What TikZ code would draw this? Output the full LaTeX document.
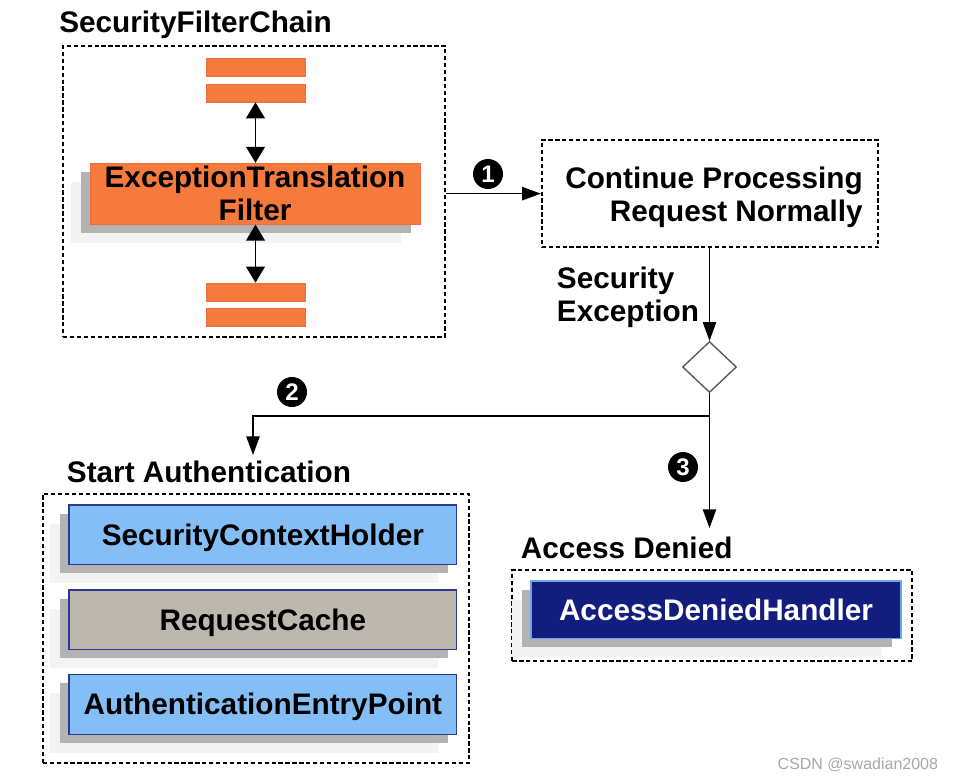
\documentclass[tikz,border=0pt]{standalone}
\usepackage{fontspec}
\setmainfont{Liberation Sans}
\usetikzlibrary{arrows.meta,shapes.geometric,shadows}
\definecolor{orng}{HTML}{F67A3C}
\definecolor{orngb}{HTML}{EC6E3A}
\definecolor{lblue}{HTML}{84BEF6}
\definecolor{nvborder}{HTML}{2B3990}
\definecolor{rcfill}{HTML}{BDB8AD}
\definecolor{adhfill}{HTML}{121D7E}
\definecolor{adhborder}{HTML}{6CA6EE}
\definecolor{shdark}{HTML}{B3B3B3}
\definecolor{shlight}{HTML}{F3F3F3}
\definecolor{diagray}{HTML}{555555}
\definecolor{wmgray}{HTML}{A8A8A8}
\begin{document}
\begin{tikzpicture}[x=0.75pt,y=-0.75pt,
  sz/.style 2 args={minimum width=#1*0.75pt, minimum height=#2*0.75pt, inner sep=0pt},
  lbl/.style={font=\fontsize{22.3}{24.75}\selectfont\bfseries, inner sep=0pt},
  boxtxt/.style={lbl, text height=16pt, text depth=0pt},
  dbox/.style={draw=black, line width=1.3pt, dash pattern=on 3.2pt off 2pt},
  bar/.style={fill=orng, draw=orngb, line width=0.5pt, sz={99}{18}},
  shd/.style={general shadow={shadow xshift=-14.25pt, shadow yshift=-14.25pt, fill=shlight},
              general shadow={shadow xshift=-6.75pt, shadow yshift=-6.75pt, fill=shdark}},
  bluebox/.style={shd, fill=lblue, draw=nvborder, line width=0.9pt, boxtxt},
  conn/.style={line width=1pt, -{Triangle[length=14pt,width=10pt]}},
  dconn/.style={line width=1.4pt, {Triangle[length=12pt,width=14pt]}-{Triangle[length=12pt,width=14pt]}},
  numc/.style={circle, fill=black, text=white, minimum size=22.5pt, inner sep=0pt,
               font=\fontsize{18}{18}\selectfont\bfseries}
]
\useasboundingbox (0,0) rectangle (954,779);

% ---- SecurityFilterChain ----
\node[lbl, anchor=base west] (tsfc) at (59,32) {SecurityFilterChain};
\node[dbox, sz={382}{291}] (sfc) at (254,191.5) {};
\node[bar] (bar1) at (255.5,67) {};
\node[bar] (bar2) at (255.5,93) {};
\node[bar] (bar3) at (255.5,292) {};
\node[bar] (bar4) at (255.5,317) {};
\node[shd, fill=orng, draw=orngb, line width=0.6pt, sz={330}{61}, lbl, align=center] (etf) at (255,193.7)
  {ExceptionTranslation\\Filter};
\draw[dconn] (bar2.south) -- (bar2.south |- etf.north);
\draw[dconn] (bar3.north |- etf.south) -- (bar3.north);

% ---- Continue processing ----
\node[dbox, sz={336.6}{107.3}] (cont) at (710,193.65) {};
\node[lbl, align=right, anchor=north east] (conttxt) at (863,166.3)
  {Continue Processing\\Request Normally};
\draw[conn] (sfc.east |- cont.west) -- (cont.west);
\node[numc] (n1) at (488,174) {1};

% ---- Security exception / decision ----
\node[lbl, align=left, anchor=north west] (secex) at (556.7,266.6) {Security\\Exception};
\node[diamond, draw=diagray, line width=1pt, fill=white, sz={54}{51}] (dia) at (709.5,367) {};
\draw[conn] (cont.south -| dia.north) -- (dia.north);

\coordinate (br) at (709.5,416);
\coordinate (adtip) at (709.5,528);
\coordinate (satip) at (253,455);
\draw[conn] (dia.south) -- (adtip);
\draw[conn] (br) -| (satip);
\node[numc] (n2) at (292,392) {2};
\node[numc] (n3) at (683,467) {3};

% ---- Start Authentication ----
\node[lbl, anchor=base west] (tsa) at (66.7,482.7) {Start Authentication};
\node[dbox, sz={426.6}{268.7}] (sa) at (256,628.35) {};
\node[bluebox, sz={387.7}{59.3}] (sch) at (262.85,534.65) {SecurityContextHolder};
\node[bluebox, fill=rcfill, sz={387.7}{59.3}] (rc) at (262.85,619.65) {RequestCache};
\node[bluebox, sz={387.7}{60}] (aep) at (262.85,704.3) {AuthenticationEntryPoint};

% ---- Access Denied ----
\node[lbl, anchor=base west] (tad) at (520.7,558.3) {Access Denied};
\node[dbox, sz={400}{90.7}] (ad) at (712.3,615.35) {};
\node[shd, fill=adhfill, draw=adhborder, line width=0.9pt, boxtxt, text=white, sz={370}{57.3}] (adh) at (716,609.65) {AccessDeniedHandler};

% ---- watermark ----
\node[anchor=base east, inner sep=0pt, text=wmgray, font=\fontsize{12}{12}\selectfont] (wm) at (938.3,769) {CSDN @swadian2008};
\end{tikzpicture}
\end{document}
